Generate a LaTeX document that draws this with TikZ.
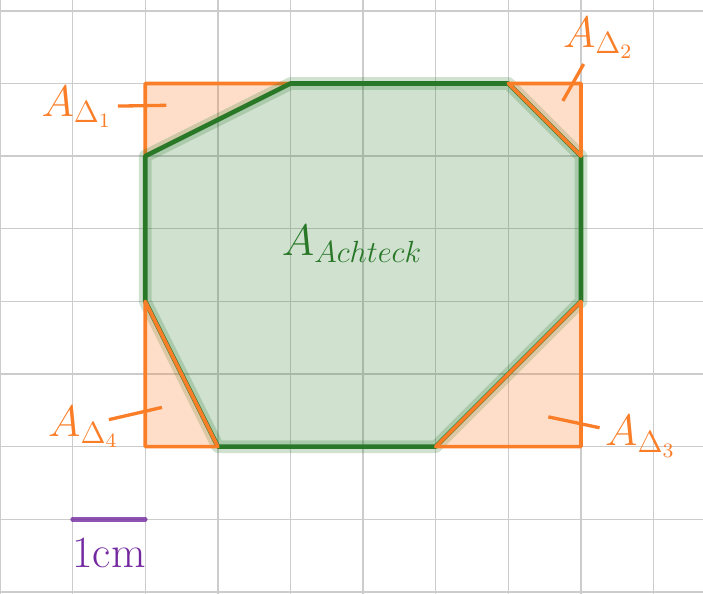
\documentclass[tikz,border=0pt]{standalone}
\usepackage{amsmath,amssymb}
\usepackage{tikz}
\usetikzlibrary{positioning}

\definecolor{ggorange}{RGB}{250,125,40}
\definecolor{gggreen}{RGB}{40,120,40}
\definecolor{ggpurple}{RGB}{115,40,160}

\begin{document}
\begin{tikzpicture}[
    gridline/.style={gray!40, line width=0.55pt},
    triangle/.style={draw=ggorange, fill=ggorange, fill opacity=0.25, line width=1.4pt, line join=round},
    octhalo/.style={draw=gggreen, draw opacity=0.22, line width=5pt, line join=round},
    octline/.style={draw=gggreen, fill=gggreen, fill opacity=0.22, line width=1.8pt, line join=round},
    pointer/.style={ggorange, line width=1.3pt},
    bigtext/.style={font=\fontsize{16.5}{20}\selectfont, inner sep=2pt}
]
    \useasboundingbox (0,-0.02) rectangle (9.68,8.15);

    % Background grid (1 unit = 1cm)
    \begin{scope}
        \clip (0,-0.02) rectangle (9.68,8.15);
        \draw[gridline] (-1,-1) grid (11,10);
    \end{scope}

    % Corners of the rectangle and of the octagon
    \coordinate (r1) at (2,7);
    \coordinate (r2) at (8,7);
    \coordinate (r3) at (8,2);
    \coordinate (r4) at (2,2);
    \coordinate (a1) at (2,6);
    \coordinate (a2) at (4,7);
    \coordinate (a3) at (7,7);
    \coordinate (a4) at (8,6);
    \coordinate (a5) at (8,4);
    \coordinate (a6) at (6,2);
    \coordinate (a7) at (3,2);
    \coordinate (a8) at (2,4);

    % Corner triangle top left (below the octagon)
    \draw[triangle] (r1) -- (a2) -- (a1) -- cycle;

    % Octagon
    \draw[octhalo] (a1) -- (a2) -- (a3) -- (a4) -- (a5) -- (a6) -- (a7) -- (a8) -- cycle;
    \draw[octline] (a1) -- (a2) -- (a3) -- (a4) -- (a5) -- (a6) -- (a7) -- (a8) -- cycle;

    % Other corner triangles
    \draw[triangle] (a3) -- (r2) -- (a4) -- cycle;
    \draw[triangle] (a5) -- (r3) -- (a6) -- cycle;
    \draw[triangle] (a8) -- (r4) -- (a7) -- cycle;

    % Labels of the areas
    \node[bigtext, text=gggreen] (octlabel) at (4.85,4.79) {$A_{Achteck}$};
    \node[bigtext, text=ggorange] (lab1) at (1.06,6.68) {$A_{\Delta_1}$};
    \node[bigtext, text=ggorange] (lab2) at (8.24,7.63) {$A_{\Delta_2}$};
    \node[bigtext, text=ggorange] (lab3) at (8.82,2.14) {$A_{\Delta_3}$};
    \node[bigtext, text=ggorange] (lab4) at (1.15,2.27) {$A_{\Delta_4}$};

    % Pointers into the triangles
    \coordinate (p1) at (2.29,6.70);
    \coordinate (p2) at (7.75,6.76);
    \coordinate (p3) at (7.55,2.41);
    \coordinate (p4) at (2.23,2.54);
    \draw[pointer] (lab1) -- (p1);
    \draw[pointer] (lab2) -- (p2);
    \draw[pointer] (lab3) -- (p3);
    \draw[pointer, shorten <=-0.22cm] (lab4.15) -- (p4);

    % Scale bar
    \coordinate (s1) at (1,1);
    \coordinate (s2) at (2,1);
    \coordinate (sm) at (1.5,1);
    \draw[ggpurple, draw opacity=0.8, line width=1.8pt, line cap=round] (s1) -- (s2);
    \node[bigtext, text=ggpurple, font=\fontsize{17.5}{21}\selectfont, below=0.18cm of sm] (scalelabel) {1cm};
\end{tikzpicture}
\end{document}
